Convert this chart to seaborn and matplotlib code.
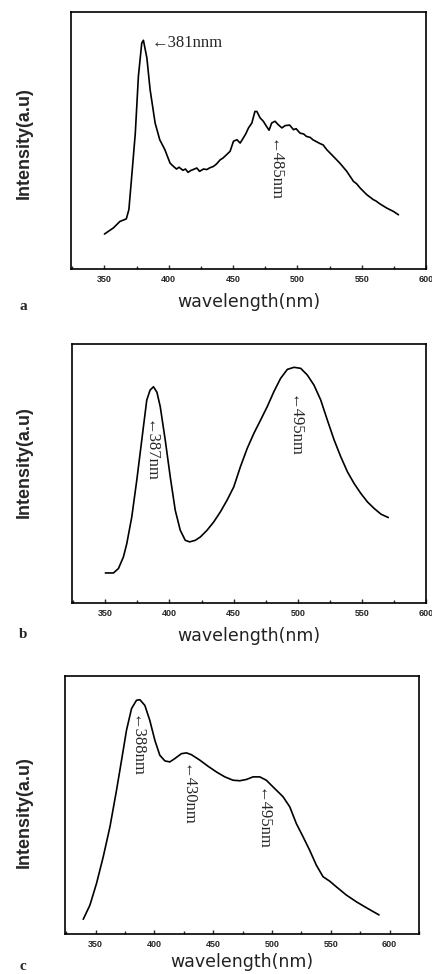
import numpy as np
import pandas as pd
import matplotlib
matplotlib.use("Agg")
import matplotlib.pyplot as plt
import seaborn as sns
from matplotlib.ticker import MultipleLocator

# panel a spectrum (noisy)
wl_a = [350, 357, 362, 367, 369, 371, 374, 376.4, 379, 380.3, 383, 385.5, 389.4, 393, 397,
        401, 403.5, 406, 408, 411, 413, 415, 417, 419, 421.8, 424, 427, 429.6, 432, 434.7,
        437, 440, 442, 445, 447.7, 450.3, 453, 455.5, 458, 460, 462, 464.6, 467, 468.5, 471,
        473.5, 476, 478, 480, 482.6, 485, 488, 490.5, 494, 497, 499, 502, 505, 507, 510, 512,
        515, 517.6, 520, 522.9, 528, 533, 538.4, 543.6, 546, 548.8, 554, 559, 561, 564,
        569.5, 574.7, 578.6]
int_a = [13.6, 16.0, 18.5, 19.5, 23.1, 34.8, 52.9, 75.0, 87.9, 89.0, 82.1, 69.8, 56.8, 50.3, 46.4,
         41.2, 40.0, 38.9, 39.6, 38.4, 38.9, 37.6, 38.3, 38.7, 39.3, 38.0, 38.9, 38.7, 39.4, 39.9,
         40.8, 42.5, 43.1, 44.5, 45.8, 49.7, 50.3, 49.0, 51.0, 52.7, 54.9, 56.8, 61.3, 61.3, 58.8,
         57.5, 55.5, 54.0, 56.8, 57.5, 56.2, 54.9, 55.8, 56.0, 54.2, 54.6, 52.9, 52.5, 51.6, 51.2,
         50.3, 49.5, 48.8, 48.3, 46.4, 43.8, 41.2, 38.0, 34.1, 33.2, 31.5, 28.9, 27.0, 26.5, 25.4,
         23.7, 22.4, 21.1]

# panel b spectrum
wl_b = [350, 356.3, 360.2, 364.1, 366.7, 370.6, 374.5, 378.4, 382.3, 384.9, 387.5, 390.2, 392.8,
        396.7, 400.6, 404.5, 408.4, 412.3, 415.7, 420.1, 424.1, 429.3, 434.5, 439.7, 444.9,
        450.1, 455.3, 460.6, 465.8, 471.0, 476.2, 481.4, 486.6, 491.9, 497.1, 502.3, 507.5,
        512.7, 517.9, 523.1, 528.4, 533.6, 538.8, 544.0, 549.2, 554.4, 559.6, 564.9, 570.6]
int_b = [11.6, 11.6, 13.3, 17.8, 22.9, 33.2, 47.4, 62.9, 78.4, 82.2, 83.5, 81.4, 75.8,
         62.9, 48.7, 35.8, 28.1, 24.2, 23.6, 24.2, 25.5, 28.1, 31.3, 35.2, 39.7,
         44.8, 52.6, 59.7, 65.5, 70.6, 75.8, 81.6, 86.7, 90.2, 91.0, 90.6, 88.0,
         84.1, 78.4, 70.6, 62.9, 56.4, 50.6, 46.1, 42.3, 39.0, 36.5, 34.3, 33.0]

# panel c spectrum
wl_c = [339.5, 345.2, 350.8, 356.5, 362.2, 367.8, 372.1, 376.3, 380.6, 384.8, 387.7, 391.9,
        396.1, 400.4, 404.6, 408.9, 413.1, 417.4, 423.0, 427.3, 431.5, 438.6, 445.7, 452.8,
        459.9, 466.9, 472.6, 478.3, 483.9, 489.6, 495.2, 500.9, 509.4, 515.1, 520.7, 526.4,
        532.0, 537.7, 543.4, 549.0, 554.7, 563.2, 571.7, 580.2, 591.0]
int_c = [5.7, 11.2, 19.6, 29.9, 41.5, 55.7, 67.4, 79.0, 87.4, 90.6, 90.8, 88.6,
         82.8, 75.1, 69.3, 67.1, 66.7, 68.0, 69.9, 70.2, 69.5, 67.4, 65.0, 62.8,
         60.9, 59.6, 59.4, 59.9, 60.9, 60.9, 59.6, 57.0, 53.2, 49.3, 42.8, 37.7,
         32.5, 26.7, 22.2, 20.5, 18.3, 15.1, 12.5, 10.2, 7.4]

# peak labels: (text, x, y, rotation)
notes_a = [("\u2190381nnm", 386.5, 87.9, 0), ("\u2190485nm", 481.4, 50.5, -90)]
notes_b = [("\u2190387nm", 384.9, 70.6, -90), ("\u2190495nm", 496.5, 80.3, -90)]
notes_c = [("\u2190388nm", 384.3, 84.8, -90), ("\u2190430nm", 427.3, 65.8, -90),
           ("\u2190495nm", 491.0, 56.4, -90)]

sns.set_style("ticks")
plt.rcParams['font.family'] = ['Liberation Sans', 'DejaVu Sans']

fig = plt.figure(figsize=(4.32, 9.74), dpi=100)

# letter, data, notes, xlim, axes box in px, letter y, ylabel centre y, xlabel pad
panels = [
    ("a", wl_a, int_a, notes_a, (324, 600), [71, 12, 426, 269], 307, 143, 7),
    ("b", wl_b, int_b, notes_b, (324, 600), [72, 344, 426, 603], 635, 462, 7),
    ("c", wl_c, int_c, notes_c, (324, 625), [65, 676, 419, 934], 967, 812, 3),
]

W, H = 432.0, 974.0
for letter, wl, inten, notes, xlim, box, letter_y, ylab_y, pad in panels:
    x0, y0, x1, y1 = box
    ax = fig.add_axes([x0 / W, 1 - y1 / H, (x1 - x0) / W, (y1 - y0) / H])
    df = pd.DataFrame({"wl": wl, "inten": inten})
    sns.lineplot(data=df, x="wl", y="inten", ax=ax, color="black", linewidth=1.2, sort=False)
    ax.set_xlim(*xlim)
    ax.set_ylim(0, 100)
    ax.set_yticks([])
    ax.xaxis.set_major_locator(MultipleLocator(50))
    ax.xaxis.set_minor_locator(MultipleLocator(25))
    ax.tick_params(axis="x", which="major", direction="in", length=3, width=1, pad=4,
                   labelsize=6.5)
    ax.tick_params(axis="x", which="minor", direction="in", length=2, width=1)
    for lab in ax.get_xticklabels():
        lab.set_fontweight("bold")
    for sp in ax.spines.values():
        sp.set_visible(True)
        sp.set_linewidth(1.2)
        sp.set_color("black")
    ax.set_ylabel("")
    ax.set_xlabel("wavelength(nm)", fontsize=12.5, family="DejaVu Sans", labelpad=pad,
                  color="#222222")
    for txt, tx, ty, rot in notes:
        if rot == 0:
            ax.text(tx, ty, txt, fontsize=12, family="Liberation Serif", ha="left", va="center")
        else:
            ax.text(tx, ty, txt, fontsize=12, family="Liberation Serif", rotation=rot,
                    ha="center", va="top")
    fig.text(24 / W, 1 - ylab_y / H, "Intensity(a.u)", rotation=90, fontsize=13,
             fontweight="bold", ha="center", va="center")
    fig.text(23 / W, 1 - letter_y / H, letter, fontsize=11, fontweight="bold",
             family="Liberation Serif", ha="center", va="center")

fig.savefig("out.png", dpi=100, facecolor="white")
